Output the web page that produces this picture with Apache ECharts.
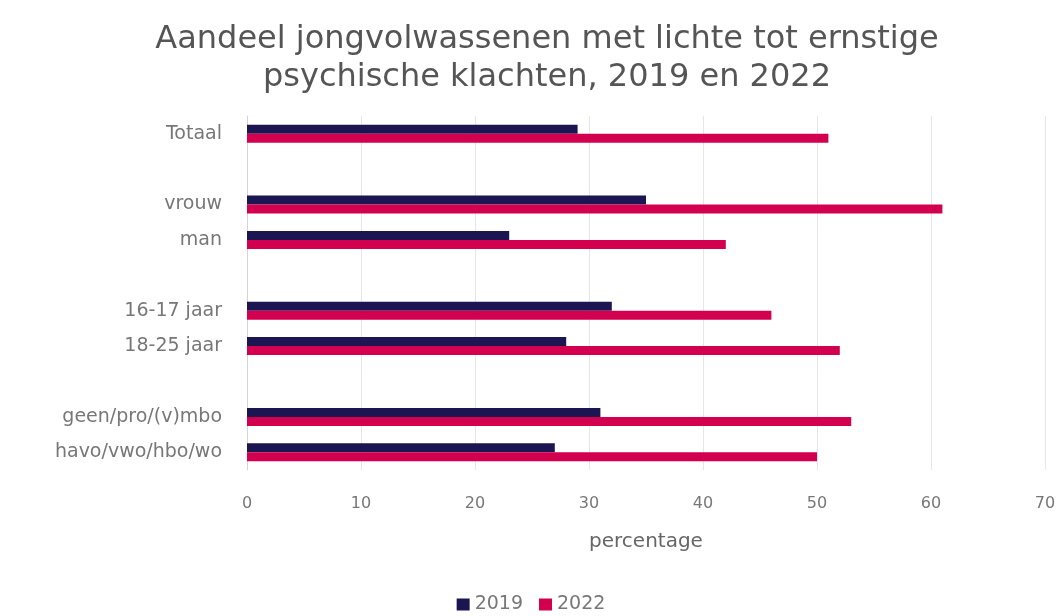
<!DOCTYPE html>
<html>
<head>
<meta charset="utf-8">
<script src="https://cdn.jsdelivr.net/npm/echarts@6/dist/echarts.min.js"></script>
<style>
  html, body { margin: 0; padding: 0; background: #fff; }
  #chart { width: 1062px; height: 616px; }
</style>
</head>
<body>
<div id="chart"></div>
<script>
// categorieen (lege strings = witregel tussen de groepen)
var categories = ['Totaal', '', 'vrouw', 'man', '', '16-17 jaar', '18-25 jaar', '', 'geen/pro/(v)mbo', 'havo/vwo/hbo/wo'];
var values2019 = [29, null, 35, 23, null, 32, 28, null, 31, 27];
var values2022 = [51, null, 61, 42, null, 46, 52, null, 53, 50];
var xTicks = [0, 10, 20, 30, 40, 50, 60, 70];

var chart = echarts.init(document.getElementById('chart'));

var option = {
  backgroundColor: '#fff',
  title: {
    text: 'Aandeel jongvolwassenen met lichte tot ernstige\npsychische klachten, 2019 en 2022',
    left: 542,
    textAlign: 'center',
    top: 16,
    textStyle: {
      fontFamily: 'DejaVu Sans',
      fontWeight: 'normal',
      fontSize: 32,
      lineHeight: 38,
      color: '#555'
    }
  },
  legend: {
    data: ['2019', '2022'],
    bottom: -3,
    left: 'center',
    itemWidth: 13,
    itemHeight: 12,
    itemGap: 16,
    icon: 'rect',
    textStyle: { color: '#777', fontSize: 19, fontFamily: 'DejaVu Sans' }
  },
  grid: {
    left: 247,
    right: 17,
    top: 116,
    bottom: 146
  },
  xAxis: {
    type: 'value',
    min: xTicks[0],
    max: xTicks[xTicks.length - 1],
    interval: 10,
    name: 'percentage',
    nameLocation: 'middle',
    nameGap: 62,
    nameTextStyle: { color: '#666', fontSize: 20, fontFamily: 'DejaVu Sans' },
    axisLine: { show: false },
    axisTick: { show: false },
    axisLabel: { color: '#777', fontSize: 16, margin: 26, fontFamily: 'DejaVu Sans' },
    splitLine: { lineStyle: { color: '#e6e6e6', width: 1 } }
  },
  yAxis: {
    type: 'category',
    data: categories,
    inverse: true,
    axisLine: { lineStyle: { color: '#d4d4d4' } },
    axisTick: { show: false },
    axisLabel: { color: '#777', fontSize: 19, margin: 25, fontFamily: 'DejaVu Sans' }
  },
  series: [{
    name: '2019',
    type: 'bar',
    data: values2019,
    barWidth: 9,
    barGap: '0%',
    itemStyle: { color: '#1b1552' }
  }, {
    name: '2022',
    type: 'bar',
    data: values2022,
    barWidth: 9,
    barGap: '0%',
    itemStyle: { color: '#d2004f' }
  }]
};

chart.setOption(option);
</script>
</body>
</html>
